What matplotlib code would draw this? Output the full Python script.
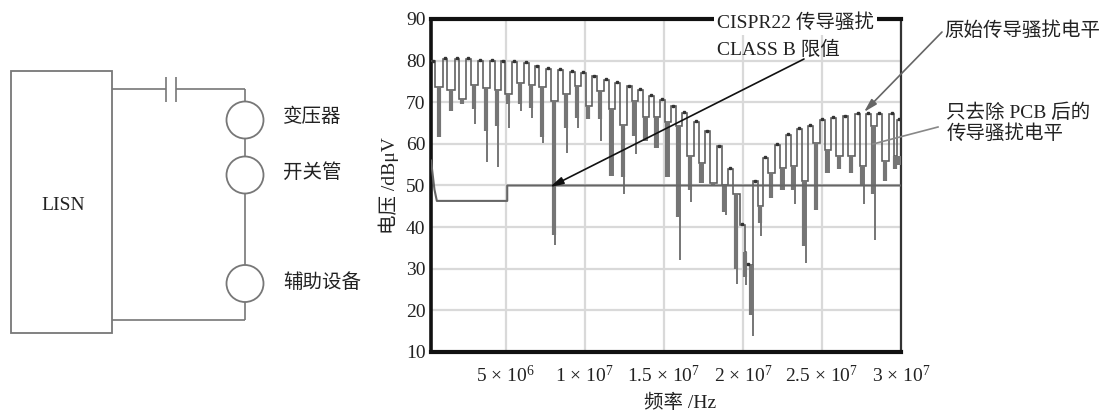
import numpy as np
import matplotlib
matplotlib.use("Agg")
import matplotlib.pyplot as plt
from matplotlib.patches import Rectangle, Circle

FONT = ['Liberation Serif', 'Noto Sans CJK SC']
plt.rcParams['font.family'] = FONT
plt.rcParams['mathtext.fontset'] = 'custom'
plt.rcParams['mathtext.rm'] = 'Liberation Serif'
plt.rcParams['mathtext.default'] = 'rm'

# --- data (MHz, dBuV) ---
freq_mhz = [0.41,1.17,1.93,2.63,3.39,4.15,4.84,5.54,6.30,6.99,7.69,8.45,9.21,9.90,10.60,11.36,12.06,12.82,13.51,14.21,14.90,
            15.60,16.30,17.06,17.75,18.51,19.21,19.97,20.35,20.79,21.42,22.18,22.88,23.58,24.27,25.03,25.73,26.49,27.25,27.94,28.64,29.40,29.90]
peak_level = [79.8,80.4,80.4,80.4,80,79.9,79.8,79.6,79.4,78.6,78,77.7,77.3,77.1,76.2,75.4,74.6,73.8,73,71.6,70.5,
              69,67.4,65.3,63,59.4,53.9,40.5,31,51,56.7,59.8,62.2,63.5,64.4,65.8,66.2,66.6,67.2,67.2,67.2,67.2,65.8]
valley_level = [73.6,73,70.8,74.2,73.5,73,72,74.6,74.2,73.6,70.4,72,74,69,72.7,68.3,64.6,70.3,66.4,66.4,65.2,
                64.2,57,55.5,50.7,50,48,34,31,45,53,54.3,54.7,51,60.2,58.6,57,57,54.7,64.2,55.9,57,57]
pcb_dip = [61.7,67.9,69.5,68.3,63,64.4,69.5,69.5,68.7,61.7,38.1,63.9,66.3,65.9,65.9,52.4,52,61.9,60.7,59.1,52,
           42.4,49,50.5,49.8,43.6,30,28,18.9,41,47,49,49,35.5,44.2,53,54,53,50,48,51,54,55]
orig_dip = [61.7,67.9,69.5,64.8,55.7,54.4,63.9,67.9,66.3,60.3,35.7,57.9,63.9,65.9,60.7,52.4,48,57.5,60.7,59.1,52,
            32,46,50.5,49.8,43,26.3,26,13.8,37.8,47,49,45.5,31.5,44.2,53,54,53,45.5,36.8,51,54,55]
limit_f = [0.28,0.5,0.65,5.1,5.1,30]
limit_v = [56,49,46.3,46.3,50,50]
y_ticks = [10,20,30,40,50,60,70,80,90]
x_ticks = [5e6,1e7,1.5e7,2e7,2.5e7,3e7]
x_labels = ['5 × 10$^{6}$','1 × 10$^{7}$','1.5 × 10$^{7}$','2 × 10$^{7}$','2.5 × 10$^{7}$','3 × 10$^{7}$']

W, H = 1106, 412
fig = plt.figure(figsize=(W/100, H/100), dpi=100, facecolor='white')
L, R, T, B = 431, 901, 19, 352
ax = fig.add_axes([L/W, 1-B/H, (R-L)/W, (B-T)/H])

f = np.array(freq_mhz)*1e6
pk = np.array(peak_level); vl = np.array(valley_level)
w = 0.15e6
xs, ys = [], []
for i in range(len(f)):
    xs += [f[i]-w, f[i]+w]; ys += [pk[i], pk[i]]
    if i < len(f)-1:
        xs += [f[i]+w, f[i+1]-w]; ys += [vl[i], vl[i]]
ax.plot(xs, ys, color='#5a5a5a', lw=1.15, solid_joinstyle='miter', zorder=3)
ax.plot(f, pk+0.2, ls='', marker='s', ms=1.7, color='#333333', zorder=4)

mid = np.append((f[:-1]+f[1:])/2, f[-1])
ax.vlines(mid-0.03e6, vl, pcb_dip, color='#757575', lw=3.0, zorder=3)
ax.vlines(mid+0.05e6, vl, orig_dip, color='#757575', lw=1.4, zorder=3)
ax.plot(np.array(limit_f)*1e6, limit_v, color='#666666', lw=1.5, zorder=3)

ax.set_xlim(0.28e6, 30.0e6)
ax.set_ylim(10, 90)
ax.set_yticks(y_ticks)
ax.set_xticks(x_ticks)
ax.set_xticklabels(x_labels, fontsize=14, color='#222222')
ax.tick_params(length=0, pad=4, labelsize=14, labelcolor='#222222')
ax.tick_params(axis='x', pad=9)
ax.grid(True, color='#d9d9d9', lw=1.6)
ax.set_axisbelow(True)
for s, lw, c in [('left',2.6,'#111111'),('bottom',3,'#111111'),('top',3,'#111111'),('right',1.6,'#333333')]:
    ax.spines[s].set_linewidth(lw); ax.spines[s].set_color(c)
ax.set_xlabel('频率 /Hz', fontsize=14, color='#222222', labelpad=6, x=0.53)
ax.set_ylabel('电压 /dBμV', fontsize=14, color='#222222', labelpad=5, y=0.5)

# overlay in pixel coordinates for schematic and annotations
ov = fig.add_axes([0,0,1,1], zorder=5)
ov.set_xlim(0,W); ov.set_ylim(H,0); ov.axis('off'); ov.patch.set_alpha(0)
wire = dict(color='#777777', lw=1.2, solid_capstyle='butt')
ov.add_patch(Rectangle((11,71),101,262,fill=False,ec='#777777',lw=1.3))
ov.plot([112,166],[89,89],**wire); ov.plot([176,245],[89,89],**wire)
ov.plot([166,166],[77,102],**wire); ov.plot([176,176],[77,102],**wire)
ov.plot([245,245],[89,320],**wire); ov.plot([112,245],[320,320],**wire)
for cy in (120,175,283.5):
    ov.add_patch(Circle((245,cy),18.5,fc='white',ec='#777777',lw=1.3,zorder=3))
tx = dict(fontsize=14, color='#222222', va='center', family=FONT)
ov.text(63,205,'LISN',ha='center',**tx)
ov.text(283,117,'变压器',**tx); ov.text(283,173,'开关管',**tx); ov.text(283,283,'辅助设备',**tx)
ov.text(717,23,'CISPR22 传导骚扰',bbox=dict(fc='white',ec='none',pad=2),**tx)
ov.text(717,50,'CLASS B 限值',**tx)
ov.text(944,31,'原始传导骚扰电平',**tx)
ov.text(946,113,'只去除 PCB 后的',**tx)
ov.text(947,134,'传导骚扰电平',**tx)
ov.annotate('',xy=(550,187),xytext=(804,59),arrowprops=dict(arrowstyle='-|>,head_length=0.8,head_width=0.22',color='#111111',lw=1.2,shrinkA=0,shrinkB=0))
ov.annotate('',xy=(864,112),xytext=(942,32),arrowprops=dict(arrowstyle='-|>,head_length=0.8,head_width=0.22',color='#666666',lw=1.2,shrinkA=0,shrinkB=0))
ov.plot([938,873],[127,144],color='#888888',lw=1.2)

fig.savefig('out.png', dpi=100)
